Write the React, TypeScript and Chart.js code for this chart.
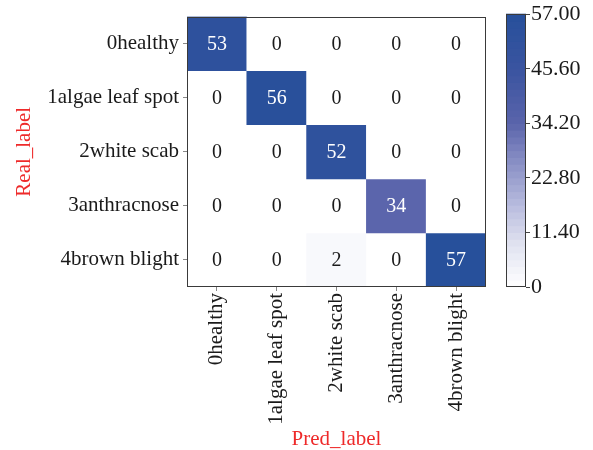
import React, { useEffect, useRef } from "react";
import { Chart, registerables } from "chart.js";

Chart.register(...registerables);

const rowLabels = ["0healthy", "1algae leaf spot", "2white scab", "3anthracnose", "4brown blight"];
const colLabels = ["0healthy", "1algae leaf spot", "2white scab", "3anthracnose", "4brown blight"];
const row0 = [53, 0, 0, 0, 0];
const row1 = [0, 56, 0, 0, 0];
const row2 = [0, 0, 52, 0, 0];
const row3 = [0, 0, 0, 34, 0];
const row4 = [0, 0, 2, 0, 57];
const rows = [row0, row1, row2, row3, row4];
const colorbarTicks = [0, 11.4, 22.8, 34.2, 45.6, 57];
const vmin = 0;
const vmax = 57;
const xTitle = "Pred_label";
const yTitle = "Real_label";

const FONT = '"Liberation Serif", "Times New Roman", serif';

const stops: [number, number[]][] = [
  [0, [255, 255, 255]],
  [0.15, [226, 228, 241]],
  [0.3, [184, 188, 222]],
  [0.5, [124, 131, 190]],
  [0.6, [90, 100, 171]],
  [0.8, [58, 84, 160]],
  [1, [39, 80, 155]],
];

function cmap(t: number): string {
  t = Math.max(0, Math.min(1, t));
  for (let i = 1; i < stops.length; i++) {
    if (t <= stops[i][0]) {
      const [t0, c0] = stops[i - 1];
      const [t1, c1] = stops[i];
      const f = (t - t0) / (t1 - t0);
      const c = c0.map((v, k) => Math.round(v + (c1[k] - v) * f));
      return `rgb(${c[0]},${c[1]},${c[2]})`;
    }
  }
  const c = stops[stops.length - 1][1];
  return `rgb(${c[0]},${c[1]},${c[2]})`;
}

export default function App() {
  const mainRef = useRef<HTMLCanvasElement>(null);
  const barRef = useRef<HTMLCanvasElement>(null);

  useEffect(() => {
    const frameAndText = {
      id: "frameAndText",
      afterDatasetsDraw(chart: any) {
        const ctx = chart.ctx;
        ctx.save();
        ctx.font = `20px ${FONT}`;
        ctx.textAlign = "center";
        ctx.textBaseline = "middle";
        chart.data.datasets.forEach((ds: any, di: number) => {
          const meta = chart.getDatasetMeta(di);
          meta.data.forEach((el: any, ci: number) => {
            const v = rows[di][ci];
            ctx.fillStyle = v > vmax * 0.45 ? "#ffffff" : "#1a1a1a";
            ctx.fillText(String(v), el.x, (el.y + el.base) / 2 + 1);
          });
        });
        const a = chart.chartArea;
        ctx.strokeStyle = "#3a3a3a";
        ctx.lineWidth = 1;
        ctx.strokeRect(Math.round(a.left) + 0.5, Math.round(a.top) + 0.5, Math.round(a.right - a.left) - 1, Math.round(a.bottom - a.top) - 1);
        ctx.restore();
      },
    };

    const main = new Chart(mainRef.current!, {
      type: "bar",
      data: {
        labels: colLabels,
        datasets: rows.map((r, ri) => ({
          label: rowLabels[ri],
          data: r.map(() => [ri, ri + 1] as any),
          backgroundColor: r.map((v) => cmap((v - vmin) / (vmax - vmin))),
          borderWidth: 0,
          barPercentage: 1,
          categoryPercentage: 1,
          grouped: false,
        })),
      },
      options: {
        responsive: false,
        animation: false,
        layout: { padding: { left: 14, top: 13, right: 4, bottom: 0 } },
        plugins: { legend: { display: false }, tooltip: { enabled: false } },
        scales: {
          x: {
            type: "category",
            afterFit(scale: any) {
              scale.height = 163;
            },
            grid: { offset: false, drawOnChartArea: false, drawTicks: true, tickLength: 4, color: "#888" },
            border: { display: false },
            ticks: {
              maxRotation: 90,
              minRotation: 90,
              padding: 2,
              color: "#1a1a1a",
              font: { family: FONT, size: 21 },
            },
            title: {
              display: true,
              text: xTitle,
              color: "#ee2a2a",
              font: { family: FONT, size: 21, lineHeight: 1 },
              padding: { top: 0, bottom: 0 },
            },
          },
          y: {
            type: "linear",
            min: 0,
            max: 5,
            reverse: true,
            afterBuildTicks(scale: any) {
              scale.ticks = rowLabels.map((_, i) => ({ value: i + 0.5 }));
            },
            afterFit(scale: any) {
              scale.width = 173;
            },
            grid: { drawOnChartArea: false, drawTicks: true, tickLength: 4, color: "#888" },
            border: { display: false },
            ticks: {
              padding: 4,
              color: "#1a1a1a",
              font: { family: FONT, size: 21 },
              callback: (v: any) => rowLabels[Math.floor(Number(v))] ?? "",
            },
            title: {
              display: true,
              text: yTitle,
              color: "#ee2a2a",
              font: { family: FONT, size: 21, lineHeight: 1 },
              padding: { top: 0, bottom: 0 },
            },
          },
        },
      },
      plugins: [frameAndText],
    } as any);

    const gradientPlugin = {
      id: "gradientBar",
      beforeDatasetsDraw(chart: any) {
        const ctx = chart.ctx;
        const a = chart.chartArea;
        const ys = chart.scales.y;
        const y0 = ys.getPixelForValue(vmin);
        const y1 = ys.getPixelForValue(vmax);
        const n = 40;
        ctx.save();
        for (let i = 0; i < n; i++) {
          const t0 = i / n;
          const t1 = (i + 1) / n;
          const p0 = y0 + (y1 - y0) * t0;
          const p1 = y0 + (y1 - y0) * t1;
          ctx.fillStyle = cmap((t0 + t1) / 2);
          ctx.fillRect(a.left, Math.min(p0, p1) - 0.5, a.right - a.left, Math.abs(p1 - p0) + 1);
        }
        ctx.strokeStyle = "#3a3a3a";
        ctx.lineWidth = 1;
        ctx.strokeRect(Math.round(a.left) + 0.5, Math.round(a.top) + 0.5, Math.round(a.right - a.left) - 1, Math.round(a.bottom - a.top) - 1);
        ctx.restore();
      },
    };

    const bar = new Chart(barRef.current!, {
      type: "bar",
      data: { labels: [""], datasets: [{ data: [], borderWidth: 0 }] },
      options: {
        responsive: false,
        animation: false,
        layout: { padding: { left: 16, top: 13, right: 0, bottom: 163 } },
        plugins: { legend: { display: false }, tooltip: { enabled: false } },
        scales: {
          x: { display: false },
          y: {
            type: "linear",
            position: "right",
            min: vmin,
            max: vmax,
            afterBuildTicks(scale: any) {
              scale.ticks = colorbarTicks.map((v) => ({ value: v }));
            },
            afterFit(scale: any) {
              scale.width = 67;
            },
            grid: { drawOnChartArea: false, drawTicks: true, tickLength: 4, color: "#444" },
            border: { display: false },
            ticks: {
              padding: 1,
              color: "#1a1a1a",
              font: { family: FONT, size: 22 },
              callback: (v: any) => (Number(v) === 0 ? "0" : Number(v).toFixed(2)),
            },
          },
        },
      },
      plugins: [gradientPlugin],
    } as any);

    return () => {
      main.destroy();
      bar.destroy();
    };
  }, []);

  return (
    <div style={{ position: "fixed", left: 0, top: 0, width: 593, height: 450, background: "#fff" }}>
      <canvas ref={mainRef} width={490} height={450} style={{ position: "absolute", left: 0, top: 0 }} />
      <canvas ref={barRef} width={103} height={450} style={{ position: "absolute", left: 490, top: 0 }} />
    </div>
  );
}
